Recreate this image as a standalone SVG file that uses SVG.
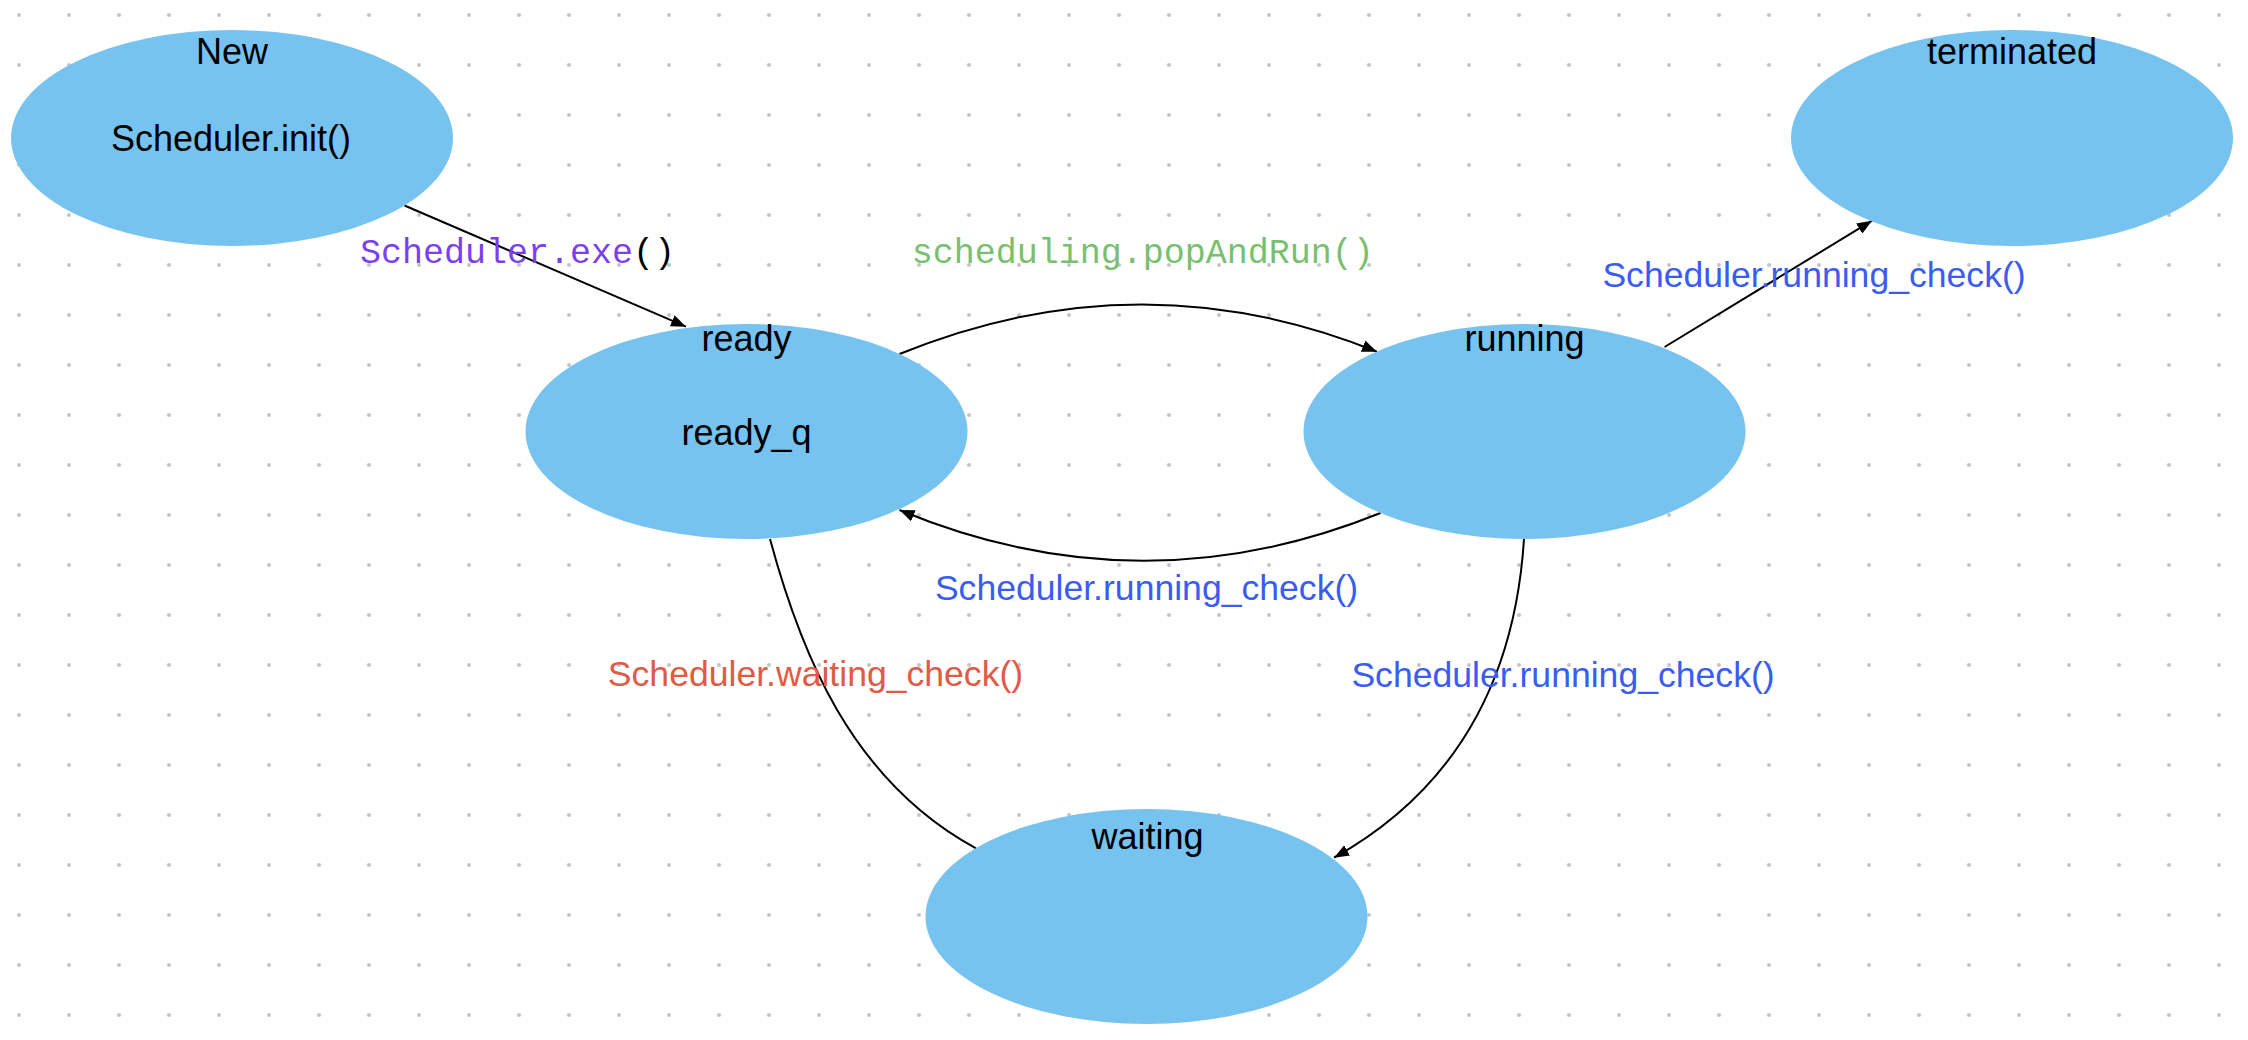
<svg xmlns="http://www.w3.org/2000/svg" width="2248" height="1040" viewBox="0 0 2248 1040">
  <defs>
    <pattern id="dots" x="0" y="0" width="50" height="50" patternUnits="userSpaceOnUse">
      <circle cx="19" cy="15" r="2" fill="#c4c4c4"/>
    </pattern>
    <marker id="arrow" markerUnits="userSpaceOnUse" markerWidth="16" markerHeight="12" refX="15" refY="6" orient="auto">
      <path d="M0,0 L15,6 L0,12 z" fill="#000"/>
    </marker>
    <style>
      .node { fill: #77c3f0; }
      .nl { font-family: "Liberation Sans", Arial, sans-serif; font-size: 36px; fill: #000; text-anchor: middle; }
      .el { font-family: "Liberation Sans", Arial, sans-serif; font-size: 35.6px; text-anchor: middle; }
      .mono { font-family: "Liberation Mono", "Courier New", monospace; font-size: 35px; }
      .edge { fill: none; stroke: #000; stroke-width: 2; }
      .arr { marker-end: url(#arrow); }
    </style>
  </defs>
  <rect width="2248" height="1040" fill="#fff"/>
  <rect width="2248" height="1040" fill="url(#dots)"/>

  <g id="connectors">
    <path class="edge arr" d="M404.5,205.5 L686,326.7"/>
    <path class="edge arr" d="M899.5,354 Q1140,256 1377,351.7"/>
    <path class="edge arr" d="M1380.5,513 Q1140,610 899.5,510"/>
    <path class="edge arr" d="M1664.6,347 L1872,220.7"/>
    <path class="edge" d="M770,539 C800,650 850,780 976,848.3"/>
    <path class="edge arr" d="M1524,539 C1515,680 1455,790 1334,857.7"/>
    <text class="mono" x="360" y="263"><tspan fill="#7b3ff0">Scheduler.exe</tspan><tspan fill="#000">()</tspan></text>
    <text class="mono" x="911.7" y="263" fill="#78c06f">scheduling.popAndRun()</text>
    <text class="el" x="1814" y="287" fill="#3a5df0">Scheduler.running_check()</text>
    <text class="el" x="1146.5" y="600" fill="#3a5df0">Scheduler.running_check()</text>
    <text class="el" x="815.5" y="686" fill="#e05a45">Scheduler.waiting_check()</text>
    <text class="el" x="1563" y="687" fill="#3a5df0">Scheduler.running_check()</text>
  </g>

  <g id="node-new">
    <ellipse class="node" cx="232" cy="138" rx="221" ry="108"/>
    <text class="nl" x="232" y="64">New</text>
    <text class="nl" x="231" y="150.7">Scheduler.init()</text>
  </g>
  <g id="node-ready">
    <ellipse class="node" cx="746.5" cy="431.5" rx="221" ry="107.5"/>
    <text class="nl" x="746.5" y="350.5">ready</text>
    <text class="nl" x="746.5" y="445">ready_q</text>
  </g>
  <g id="node-running">
    <ellipse class="node" cx="1524.5" cy="431.5" rx="221" ry="107.5"/>
    <text class="nl" x="1524.5" y="350.7">running</text>
  </g>
  <g id="node-terminated">
    <ellipse class="node" cx="2012" cy="138" rx="221" ry="108"/>
    <text class="nl" x="2012" y="64">terminated</text>
  </g>
  <g id="node-waiting">
    <ellipse class="node" cx="1146.5" cy="916.5" rx="221" ry="107.5"/>
    <text class="nl" x="1147.5" y="849">waiting</text>
  </g>
</svg>
